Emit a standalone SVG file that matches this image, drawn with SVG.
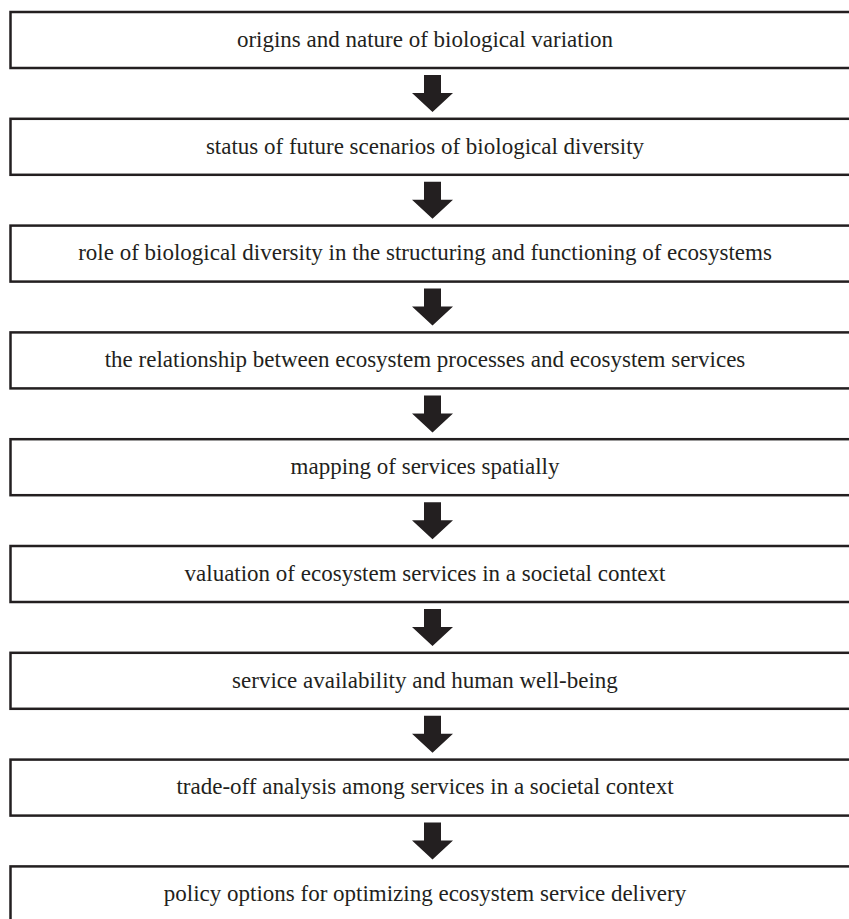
<svg xmlns="http://www.w3.org/2000/svg" width="849" height="919" viewBox="0 0 849 919">
<style>
.box{fill:#fff;stroke:#231f20;stroke-width:2.5}
.lbl{font-family:"Liberation Serif","Times New Roman",serif;font-size:23px;fill:#231f20;text-anchor:middle}
.arr{fill:#231f20}
</style>
<defs>
<path id="a" d="M424,0 H441 V18 H453 L432.5,37 L412,18 H424 Z"/>
</defs>
<rect width="849" height="919" fill="#fff"/>
<g id="n1"><rect class="box" x="10.5" y="12" width="850" height="56"/><text class="lbl" x="425" y="46.7">origins and nature of biological variation</text></g>
<g id="n2"><rect class="box" x="10.5" y="118.8" width="850" height="56"/><text class="lbl" x="425" y="153.5">status of future scenarios of biological diversity</text></g>
<g id="n3"><rect class="box" x="10.5" y="225.6" width="850" height="56"/><text class="lbl" x="425" y="260.3">role of biological diversity in the structuring and functioning of ecosystems</text></g>
<g id="n4"><rect class="box" x="10.5" y="332.4" width="850" height="56"/><text class="lbl" x="425" y="367.1">the relationship between ecosystem processes and ecosystem services</text></g>
<g id="n5"><rect class="box" x="10.5" y="439.2" width="850" height="56"/><text class="lbl" x="425" y="473.9">mapping of services spatially</text></g>
<g id="n6"><rect class="box" x="10.5" y="546" width="850" height="56"/><text class="lbl" x="425" y="580.7">valuation of ecosystem services in a societal context</text></g>
<g id="n7"><rect class="box" x="10.5" y="652.8" width="850" height="56"/><text class="lbl" x="425" y="687.5">service availability and human well-being</text></g>
<g id="n8"><rect class="box" x="10.5" y="759.6" width="850" height="56"/><text class="lbl" x="425" y="794.3">trade-off analysis among services in a societal context</text></g>
<g id="n9"><rect class="box" x="10.5" y="866.4" width="850" height="56"/><text class="lbl" x="425" y="901.1">policy options for optimizing ecosystem service delivery</text></g>
<g id="connectors" class="arr">
<use href="#a" y="75"/>
<use href="#a" y="181.8"/>
<use href="#a" y="288.6"/>
<use href="#a" y="395.4"/>
<use href="#a" y="502.2"/>
<use href="#a" y="609"/>
<use href="#a" y="715.8"/>
<use href="#a" y="822.6"/>
</g>
</svg>
